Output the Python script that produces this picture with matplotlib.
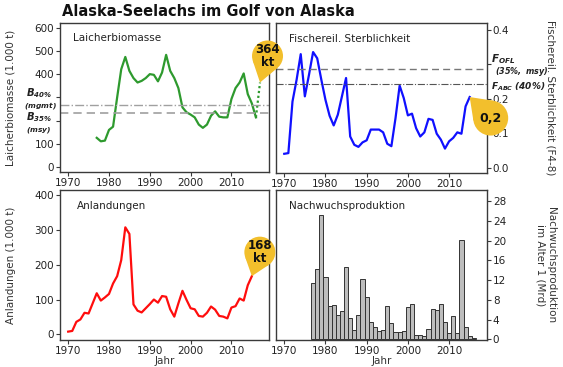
import numpy as np
import matplotlib
matplotlib.use("Agg")
import matplotlib.pyplot as plt
from matplotlib.patches import Circle, Polygon
from matplotlib.transforms import IdentityTransform

plt.rcParams['font.family'] = ['DejaVu Sans']
plt.rcParams['mathtext.fontset'] = 'custom'
plt.rcParams['mathtext.rm'] = 'DejaVu Sans:italic:bold'
plt.rcParams['mathtext.it'] = 'DejaVu Sans:italic:bold'
plt.rcParams['mathtext.bf'] = 'DejaVu Sans:italic:bold'

# ---------------- data ----------------
biomass_years = list(range(1977, 2017))
biomass = [126, 111, 114, 160, 174, 300, 421, 474, 414, 383,
           364, 371, 383, 400, 397, 369, 407, 483, 414, 383,
           340, 257, 236, 226, 214, 183, 169, 183, 221, 240,
           217, 214, 214, 293, 340, 364, 403, 314, 274, 214]
proj_years = [2016, 2017]
proj_biomass = [214, 364]
B40, B35 = 267, 233

f_years = list(range(1970, 2016))
fmort = [0.041, 0.043, 0.192, 0.255, 0.329, 0.207, 0.269, 0.335, 0.317, 0.255,
         0.197, 0.151, 0.123, 0.154, 0.207, 0.260, 0.091, 0.067, 0.061, 0.074,
         0.080, 0.111, 0.111, 0.111, 0.103, 0.070, 0.063, 0.144, 0.238, 0.202,
         0.152, 0.157, 0.115, 0.091, 0.103, 0.142, 0.139, 0.099, 0.082, 0.056,
         0.077, 0.087, 0.103, 0.099, 0.178, 0.205]
F_OFL, F_ABC = 0.286, 0.242

catch_years = list(range(1970, 2016))
catch = [8, 10, 36, 43, 62, 60, 89, 118, 97, 106,
         116, 146, 167, 213, 307, 288, 86, 68, 63, 75,
         87, 100, 91, 110, 108, 72, 51, 89, 125, 99,
         75, 72, 53, 51, 62, 80, 71, 53, 51, 46,
         77, 81, 103, 97, 141, 167]

rec_years = list(range(1977, 2017))
recruits = [11.5, 14.3, 25.3, 12.7, 6.8, 7.0, 5.0, 5.7, 14.7, 4.4,
            1.8, 5.0, 12.2, 8.6, 3.6, 2.4, 1.6, 1.8, 6.7, 3.2,
            1.4, 1.4, 1.6, 6.5, 7.1, 0.9, 0.8, 0.6, 2.0, 6.1,
            6.0, 7.1, 3.5, 1.3, 4.8, 1.2, 20.1, 2.4, 0.6, 0.2]

xticks = [1970, 1980, 1990, 2000, 2010]
title = "Alaska-Seelachs im Golf von Alaska"

# ---------------- figure ----------------
W, H = 563, 367
fig = plt.figure(figsize=(W / 100, H / 100), dpi=100)

def box(l, t, r, b):
    return [l / W, 1 - b / H, (r - l) / W, (b - t) / H]

ax1 = fig.add_axes(box(60, 23, 269, 172))
ax2 = fig.add_axes(box(276, 23, 487, 173))
ax3 = fig.add_axes(box(60, 190, 269, 340))
ax4 = fig.add_axes(box(276, 190, 487, 340))

spc = '#3a3a3a'
for ax in (ax1, ax2, ax3, ax4):
    ax.set_xlim(1968, 2019.2)
    ax.set_xticks(xticks)
    for s in ax.spines.values():
        s.set_color(spc)
        s.set_linewidth(1.0)
    ax.tick_params(colors=spc, labelcolor='#222222', labelsize=7.5,
                   length=3, width=0.8, pad=1.2)

green = '#2e9a2e'
gold = '#f2bf2c'

# Panel 1: spawning biomass
ax1.plot(biomass_years, biomass, color=green, lw=1.6)
ax1.plot(proj_years, proj_biomass, color=green, lw=1.6, ls=(0, (1, 1.2)))
ax1.axhline(B40, color='#a0a0a0', lw=1.0, ls='-.')
ax1.axhline(B35, color='#a0a0a0', lw=1.2, ls=(0, (5, 3)))
ax1.set_ylim(-21, 620)
ax1.set_yticks([0, 100, 200, 300, 400, 500, 600])
ax1.set_yticklabels(['0', '100', '', '', '400', '500', '600'])
ax1.set_ylabel('Laicherbiomasse (1.000 t)', fontsize=7.5, color='#333333')
ax1.yaxis.set_label_coords(-0.212, 0.5)
ax1.text(0.06, 0.93, 'Laicherbiomasse', transform=ax1.transAxes, fontsize=7.5,
         ha='left', va='top', color='#222222')
ax1.annotate(r'$B_{40\%}$', xy=(0, B40), xycoords=('axes fraction', 'data'),
             xytext=(-6, 8.7), textcoords='offset points', ha='right', va='center',
             fontsize=7.2, color='#222222')
ax1.annotate(r'$(mgmt)$', xy=(0, B40), xycoords=('axes fraction', 'data'),
             xytext=(-2, -0.5), textcoords='offset points', ha='right', va='center',
             fontsize=5.4, color='#222222')
ax1.annotate(r'$B_{35\%}$', xy=(0, B35), xycoords=('axes fraction', 'data'),
             xytext=(-6, -3), textcoords='offset points', ha='right', va='center',
             fontsize=7.2, color='#222222')
ax1.annotate(r'$(msy)$', xy=(0, B35), xycoords=('axes fraction', 'data'),
             xytext=(-6, -12), textcoords='offset points', ha='right', va='center',
             fontsize=5.4, color='#222222')

# Panel 2: fishing mortality
ax2.plot(f_years, fmort, color='#1010ff', lw=1.6)
ax2.axhline(F_OFL, color='#777777', lw=1.0, ls=(0, (5, 3)))
ax2.axhline(F_ABC, color='#555555', lw=0.8, ls='-.')
ax2.set_ylim(-0.0145, 0.419)
ax2.yaxis.tick_right()
ax2.set_yticks([0.0, 0.1, 0.2, 0.3, 0.4])
ax2.set_yticklabels(['0.0', '0.1', '0.2', '', '0.4'])
ax2.yaxis.set_label_position('right')
ax2.set_ylabel('Fischereil. Sterblichkeit (F4-8)', fontsize=7.5, color='#333333',
               rotation=270)
ax2.yaxis.set_label_coords(1.325, 0.5)
ax2.text(0.06, 0.93, 'Fischereil. Sterblichkeit', transform=ax2.transAxes,
         fontsize=7.5, ha='left', va='top', color='#222222')
ax2.annotate(r'$F_{OFL}$', xy=(1, F_OFL), xycoords=('axes fraction', 'data'),
             xytext=(3, 7.5), textcoords='offset points', ha='left', va='center',
             fontsize=7.5, color='#222222')
ax2.annotate(r'$(35\%,\ msy)$', xy=(1, F_OFL), xycoords=('axes fraction', 'data'),
             xytext=(6, -2), textcoords='offset points', ha='left', va='center',
             fontsize=5.8, color='#222222')
ax2.annotate(r'$F_{ABC}$ $(40\%)$', xy=(1, F_ABC), xycoords=('axes fraction', 'data'),
             xytext=(3, -1.5), textcoords='offset points', ha='left', va='center',
             fontsize=6.5, color='#222222')

# Panel 3: catch
ax3.plot(catch_years, catch, color='#ff0d0d', lw=1.6)
ax3.set_ylim(-16, 414)
ax3.set_yticks([0, 100, 200, 300, 400])
ax3.set_ylabel('Anlandungen (1.000 t)', fontsize=7.5, color='#333333')
ax3.yaxis.set_label_coords(-0.212, 0.5)
ax3.set_xlabel('Jahr', fontsize=7.5, color='#333333', labelpad=0)
ax3.text(0.08, 0.93, 'Anlandungen', transform=ax3.transAxes, fontsize=7.5,
         ha='left', va='top', color='#222222')

# Panel 4: recruitment
ax4.bar(rec_years, recruits, width=1.0, color='#bdbdbd', edgecolor='#333333',
        linewidth=0.7)
ax4.set_ylim(-0.15, 30.3)
ax4.yaxis.tick_right()
ax4.set_yticks(list(range(0, 29, 4)))
ax4.yaxis.set_label_position('right')
ax4.set_ylabel('Nachwuchsproduktion\nim Alter 1 (Mrd)', fontsize=7.5, color='#333333',
               rotation=270, linespacing=1.0)
ax4.yaxis.set_label_coords(1.325, 0.5)
ax4.set_xlabel('Jahr', fontsize=7.5, color='#333333', labelpad=0)
ax4.text(0.06, 0.93, 'Nachwuchsproduktion', transform=ax4.transAxes, fontsize=7.5,
         ha='left', va='top', color='#222222')

fig.text(62 / W, 1 - 12 / H, title, fontsize=10.5, fontweight='bold',
         ha='left', va='center', color='#111111')

# ---------------- bubbles ----------------
def bubble(ax, x, y, dx, dy, r, label, fs=8):
    tx, ty = ax.transData.transform((x, y))
    cx, cy = tx + dx, ty + dy
    d = np.hypot(tx - cx, ty - cy)
    phi = np.arctan2(ty - cy, tx - cx)
    a = np.arccos(min(r / d, 0.999))
    p1 = (cx + r * np.cos(phi + a), cy + r * np.sin(phi + a))
    p2 = (cx + r * np.cos(phi - a), cy + r * np.sin(phi - a))
    tri = Polygon([p1, (tx, ty), p2], closed=True, facecolor=gold, edgecolor='none',
                  transform=IdentityTransform(), zorder=5)
    circ = Circle((cx, cy), r, facecolor=gold, edgecolor='none',
                  transform=IdentityTransform(), zorder=5)
    fig.add_artist(tri)
    fig.add_artist(circ)
    fig.text(cx, cy, label, transform=IdentityTransform(), ha='center', va='center',
             fontsize=fs, fontweight='bold', color='#111111', linespacing=0.95,
             zorder=6)

bubble(ax1, proj_years[-1], proj_biomass[-1], 7.5, 26.5, 15.5, '364\nkt', fs=8.5)
bubble(ax2, f_years[-1], fmort[-1], 21, -21, 17.5, '0,2', fs=9)
bubble(ax3, catch_years[-1], catch[-1], 8, 24, 15.5, '168\nkt', fs=8.5)

fig.savefig('out.png', dpi=100)
